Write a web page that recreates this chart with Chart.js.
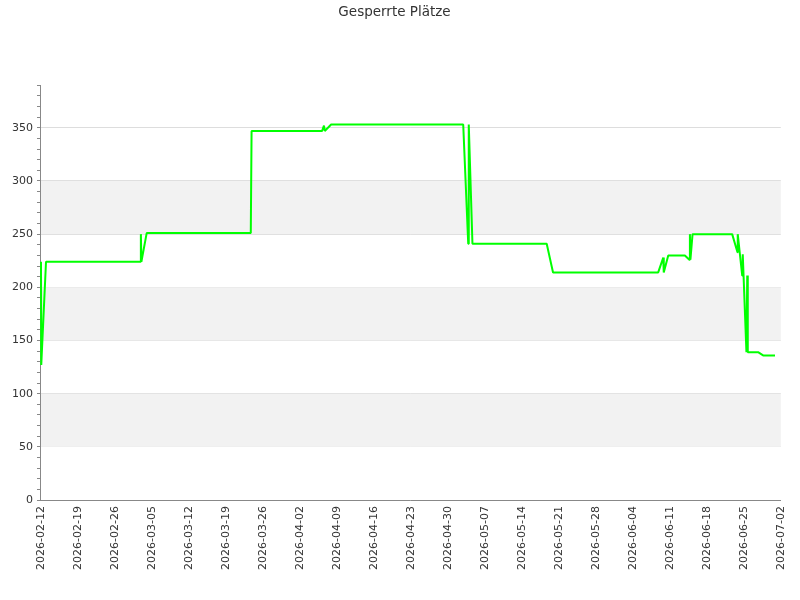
<!DOCTYPE html>
<html>
<head>
<meta charset="utf-8">
<script src="https://cdn.jsdelivr.net/npm/chart.js@4/dist/chart.umd.min.js"></script>
<style>
    html, body { margin: 0; padding: 0; background: #fff; }
    #wrap { width: 800px; height: 600px; }
</style>
</head>
<body>
<div id="wrap"><canvas id="chart" width="800" height="600"></canvas></div>
<script>
// Start of the x axis; x values below are days after this date
const startDate = "2026-02-12";
const xMaxDays = 140;

// Days after startDate (fractional, readings are taken several times a day)
const dayOffsets = [
    0, 0.05, 0.95, 18.85, 18.9, 19.0, 20.0, 39.7, 39.85,
    53.2, 53.55, 53.7, 54.9, 79.9, 80.85, 80.95, 81.65,
    95.7, 96.9, 116.8, 117.76, 117.85, 118.7, 121.85, 122.7,
    122.8, 122.9, 123.3, 130.8, 131.8, 131.85, 132.7, 132.8,
    133.5, 133.65, 133.75, 135.7, 136.65, 138.9
];

// Blocked seats at each reading
const blockedSeats = [
    224, 127, 224, 224, 250, 224, 251, 251, 347,
    347, 352, 347, 353, 353, 241, 353, 241,
    241, 214, 214, 228, 214, 230, 230, 226,
    250, 226, 250, 250, 233, 250, 211, 231,
    139, 211, 139, 139, 136, 136
];

// Shaded horizontal bands on the y axis
const bandRanges = [[50, 100], [150, 200], [250, 300]];

function dayLabel(days) {
    const d = new Date(startDate + "T00:00:00Z");
    d.setUTCDate(d.getUTCDate() + Math.round(days));
    return d.toISOString().slice(0, 10);
}

const bandPlugin = {
    id: "bands",
    beforeDatasetsDraw(chart) {
        const { ctx, chartArea, scales } = chart;
        ctx.save();
        ctx.fillStyle = "#f2f2f2";
        bandRanges.forEach(([lo, hi]) => {
            const top = scales.y.getPixelForValue(hi);
            const bottom = scales.y.getPixelForValue(lo);
            ctx.fillRect(chartArea.left, top, chartArea.right - chartArea.left, bottom - top);
        });
        ctx.restore();
    },
};

Chart.defaults.font.family = "'DejaVu Sans', sans-serif";
Chart.defaults.color = "#333";

new Chart(document.getElementById("chart"), {
    type: "line",
    data: {
        datasets: [
            {
                label: "Gesperrte Plätze",
                data: dayOffsets.map((d, i) => ({ x: d, y: blockedSeats[i] })),
                borderColor: "#00ff00",
                borderWidth: 2,
                borderJoinStyle: "bevel",
                pointRadius: 0,
                tension: 0,
                fill: false,
                clip: false,
            },
        ],
    },
    options: {
        responsive: false,
        animation: false,
        layout: { padding: { top: 0, right: 19, left: 8, bottom: 24 } },
        plugins: {
            legend: { display: false },
            tooltip: { enabled: false },
            title: {
                display: true,
                text: "Gesperrte Plätze",
                color: "#333",
                font: { size: 13.5, weight: "normal" },
                padding: { top: 4, bottom: 65 },
            },
        },
        scales: {
            x: {
                type: "linear",
                min: 0,
                max: xMaxDays,
                grid: { display: false, drawTicks: false },
                border: { color: "#888" },
                ticks: {
                    stepSize: 7,
                    autoSkip: false,
                    maxRotation: 90,
                    minRotation: 90,
                    padding: 6,
                    font: { size: 11 },
                    callback: (v) => dayLabel(v),
                },
            },
            y: {
                min: 0,
                max: 390,
                grid: {
                    color: (c) => (c.tick && c.tick.value % 50 === 0 ? "#dddddd" : "rgba(0,0,0,0)"),
                    tickColor: "#888",
                    tickLength: 4,
                },
                border: { color: "#888" },
                ticks: {
                    stepSize: 10,
                    autoSkip: false,
                    padding: 4,
                    font: { size: 11 },
                    callback: (v) => (v % 50 === 0 ? v : ""),
                },
            },
        },
    },
    plugins: [bandPlugin],
});
</script>
</body>
</html>
